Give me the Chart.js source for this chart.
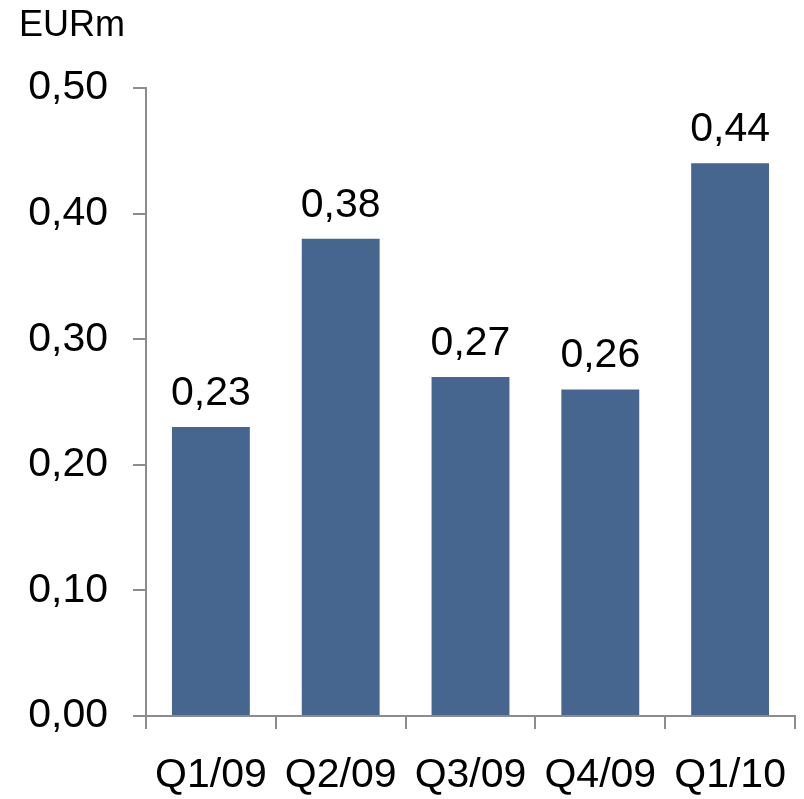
<!DOCTYPE html>
<html>
<head>
<meta charset="utf-8">
<title>EURm by quarter</title>
<script src="https://cdn.jsdelivr.net/npm/chart.js@4/dist/chart.umd.min.js"></script>
<style>
  html, body { margin: 0; padding: 0; background: #ffffff; }
  canvas { display: block; }
</style>
</head>
<body>
<canvas id="chart" width="804" height="799"></canvas>
<script>
// Quarterly values in EUR millions
const quarters = ['Q1/09', 'Q2/09', 'Q3/09', 'Q4/09', 'Q1/10'];
const values = [0.23, 0.38, 0.27, 0.26, 0.44];
const unitLabel = 'EURm';

const FONT = '"Liberation Sans", Arial, sans-serif';
const AXIS_GREY = '#8c8c8c';
const BAR_BLUE = '#46668f';
const TEXT_SIZE = 41;

const fmt = v => v.toFixed(2).replace('.', ',');

// Unit caption in the top-left corner
const unitCaption = {
  id: 'unitCaption',
  afterDraw(chart) {
    const ctx = chart.ctx;
    ctx.save();
    ctx.font = '36px ' + FONT;
    ctx.fillStyle = '#000';
    ctx.textAlign = 'left';
    ctx.textBaseline = 'alphabetic';
    ctx.fillText(unitLabel, 19, 36);
    ctx.restore();
  }
};

// Value labels above each bar
const valueLabels = {
  id: 'valueLabels',
  afterDatasetsDraw(chart) {
    const ctx = chart.ctx;
    const meta = chart.getDatasetMeta(0);
    ctx.save();
    ctx.font = TEXT_SIZE + 'px ' + FONT;
    ctx.fillStyle = '#000';
    ctx.textAlign = 'center';
    ctx.textBaseline = 'alphabetic';
    meta.data.forEach((bar, i) => {
      ctx.fillText(fmt(values[i]), bar.x, bar.y - 22);
    });
    ctx.restore();
  }
};

new Chart(document.getElementById('chart'), {
  type: 'bar',
  data: {
    labels: quarters,
    datasets: [{
      data: values,
      backgroundColor: BAR_BLUE,
      borderWidth: 0,
      barPercentage: 0.6,
      categoryPercentage: 1.0
    }]
  },
  options: {
    responsive: false,
    animation: false,
    devicePixelRatio: 1,
    layout: { padding: { top: 88, right: 9, left: 0, bottom: 0 } },
    plugins: {
      legend: { display: false },
      tooltip: { enabled: false }
    },
    scales: {
      x: {
        grid: {
          display: true,
          drawOnChartArea: false,
          offset: true,
          tickLength: 13,
          color: AXIS_GREY,
          lineWidth: 2
        },
        border: { display: true, color: AXIS_GREY, width: 2 },
        ticks: {
          color: '#000',
          font: { family: FONT, size: TEXT_SIZE },
          padding: 22,
          maxRotation: 0,
          autoSkip: false
        },
        afterFit(scale) {
          scale.height = 83;
          scale.paddingLeft = 0;
          scale.paddingRight = 0;
        }
      },
      y: {
        min: 0,
        max: 0.5,
        grid: {
          display: true,
          drawOnChartArea: false,
          tickLength: 13,
          color: AXIS_GREY,
          lineWidth: 2
        },
        border: { display: true, color: AXIS_GREY, width: 2 },
        ticks: {
          stepSize: 0.1,
          color: '#000',
          font: { family: FONT, size: TEXT_SIZE },
          padding: 25,
          callback: v => fmt(v)
        },
        afterFit(scale) { scale.width = 146; }
      }
    }
  },
  plugins: [unitCaption, valueLabels]
});
</script>
</body>
</html>
